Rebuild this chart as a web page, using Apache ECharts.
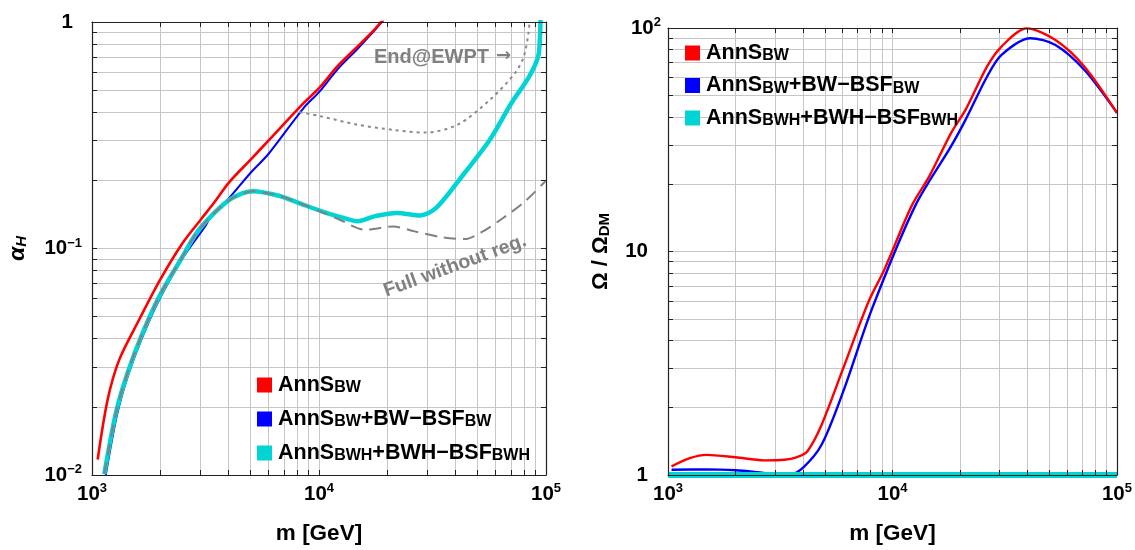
<!DOCTYPE html>
<html>
<head>
<meta charset="utf-8">
<script src="https://cdn.jsdelivr.net/npm/echarts@6/dist/echarts.min.js"></script>
<style>html,body{margin:0;padding:0;background:#fff}#c{width:1135px;height:550px}</style>
</head>
<body>
<div id="c"></div>
<script>
// ---------- data ----------
const mTicks = [1000,2000,3000,4000,5000,6000,7000,8000,9000,10000,20000,30000,40000,50000,60000,70000,80000,90000,100000];
const mLabels = [1000,10000,100000];
const aTicks = [0.01,0.02,0.03,0.04,0.05,0.06,0.07,0.08,0.09,0.1,0.2,0.3,0.4,0.5,0.6,0.7,0.8,0.9,1];
const aLabels = [0.01,0.1,1];
const oTicks = [1,2,3,4,5,6,7,8,9,10,20,30,40,50,60,70,80,90,100];
const oLabels = [1,10,100];

// left panel: alpha_H vs m
const L_red_m  = [1059,1173,1320,1617,2000,2512,3030,3459,4000,5000,6000,8550,10000,12020,14760,16900,18800,19300];
const L_red_a  = [0.0117,0.0216,0.0324,0.0487,0.073,0.106,0.135,0.160,0.195,0.247,0.300,0.438,0.51,0.635,0.778,0.89,1.0,1.03];
const L_blue_m = [1150,1290,1450,1690,2020,2530,3150,3300,4000,5000,6000,8550,10000,12020,14760,16900,18900,19400];
const L_blue_a = [0.0100,0.0185,0.0280,0.0420,0.0620,0.0920,0.1250,0.1350,0.166,0.216,0.262,0.417,0.49,0.615,0.76,0.88,1.0,1.03];
const L_cyan_m = [1133,1276,1436,1674,2000,2512,2885,3459,4148,5100,6650,8000,10270,12330,14760,17700,22030,27860,32810,43850,56570,70360,84280,92300,94000,94600];
const L_cyan_a = [0.0101,0.0189,0.0283,0.0425,0.0627,0.0925,0.117,0.1436,0.167,0.179,0.171,0.160,0.146,0.138,0.132,0.139,0.1436,0.140,0.151,0.216,0.302,0.438,0.574,0.703,0.85,1.02];
const L_full_m = [1133,1276,1436,1674,2000,2512,2885,3459,4148,5100,6650,8000,10270,12330,15890,21240,26400,35000,43850,52000,63100,80000,99300];
const L_full_a = [0.0101,0.0189,0.0283,0.0425,0.0627,0.0925,0.117,0.1436,0.167,0.179,0.171,0.160,0.145,0.134,0.121,0.125,0.119,0.112,0.110,0.118,0.134,0.160,0.198];
const L_ewpt_m = [8200,10000,14760,21240,29420,40800,56570,72940,79800,83700,84700];
const L_ewpt_a = [0.40,0.385,0.352,0.334,0.325,0.352,0.453,0.594,0.703,0.892,1.02];

// right panel: Omega/Omega_DM vs m
const R_red_m  = [1037,1250,1485,2000,2679,3300,3733,4170,4830,6030,7810,9228,12170,14620,18250,21170,26400,30600,39630,53200,71500,100000];
const R_red_o  = [1.093,1.19,1.231,1.20,1.163,1.17,1.20,1.275,1.675,3.0,5.94,8.36,16.0,21.8,33.96,43.1,67.3,82.6,99.6,88.4,67.3,41.7];
const R_blue_m = [1037,1500,2000,2500,3000,3500,4000,4830,6030,8110,12620,18250,21170,26400,30600,41100,53200,71500,100000];
const R_blue_o = [1.056,1.06,1.05,1.03,1.01,1.01,1.08,1.365,2.36,5.55,16.0,29.6,38.9,60.7,75.8,90.0,84.0,65.0,41.7];
const R_cyan_m = [1000,100000];
const R_cyan_o = [1,1];

const NAMES = ['AnnS_BW','AnnS_BW+BW-BSF_BW','AnnS_BWH+BWH-BSF_BWH'];
const RICH_NAMES = {
  'AnnS_BW': 'AnnS{s|BW}',
  'AnnS_BW+BW-BSF_BW': 'AnnS{s|BW}+BW\u2212BSF{s|BW}',
  'AnnS_BWH+BWH-BSF_BWH': 'AnnS{s|BWH}+BWH\u2212BSF{s|BWH}'
};
const RED = '#ff0000', BLUE = '#0000ff', CYAN = '#00d4d4', GRAY = '#808080';

// ---------- helpers ----------
const zip = (xs, ys) => xs.map((x, i) => [x, ys[i]]);
const FONT = "'Liberation Sans', 'DejaVu Sans', Arial, Helvetica, sans-serif";

function powLabel(v, plainTen, plainStyle) {
  const e = Math.round(Math.log10(v));
  if (e === 0) return '{' + plainStyle + '|1}';
  if (e === 1 && plainTen) return '{' + plainStyle + '|10}';
  return '{b|10}{p|' + (e < 0 ? '\u2212' + (-e) : e) + '}';
}
const labelRich = {
  b: {fontSize: 20.5, fontWeight: 'bold', fontFamily: FONT, color: '#000', lineHeight: 24},
  p: {fontSize: 13, fontWeight: 'bold', fontFamily: FONT, color: '#000', verticalAlign: 'top', lineHeight: 24, padding: [0,0,6,0]},
  L: {fontSize: 20.5, fontWeight: 'bold', fontFamily: FONT, color: '#000', lineHeight: 24, padding: [0,9,0,0]},
  R: {fontSize: 20.5, fontWeight: 'bold', fontFamily: FONT, color: '#000', lineHeight: 24, padding: [0,13,0,0]}
};

function mainX(grid, ticks, labels) {
  return {
    type: 'log', logBase: 10, gridIndex: grid, min: 1000, max: 100000, position: 'bottom', z: 0,
    axisLine: {show: false}, axisTick: {show: false, customValues: ticks},
    splitLine: {show: true, lineStyle: {color: '#c6c6c6', width: 1}},
    axisLabel: {show: true, customValues: labels, margin: 7, formatter: v => powLabel(v, false, 'b'), rich: labelRich},
    name: 'm [GeV]', nameLocation: 'middle', nameGap: 47,
    nameTextStyle: {fontSize: 22.5, fontWeight: 'bold', fontFamily: FONT, color: '#000'}
  };
}
function frameAxis(grid, pos, min, max, ticks) {
  return {
    type: 'log', logBase: 10, gridIndex: grid, min: min, max: max, position: pos, z: 10,
    axisLine: {show: true, onZero: false, lineStyle: {color: '#222', width: 1.2}},
    axisTick: {show: true, inside: true, length: 5, customValues: ticks, lineStyle: {color: '#222', width: 1}},
    splitLine: {show: false}, axisLabel: {show: false}
  };
}
function mainY(grid, min, max, ticks, labels, plainTen, plainStyle, margin, nameRich, nameText, gap) {
  return {
    type: 'log', logBase: 10, gridIndex: grid, min: min, max: max, position: 'left', z: 0,
    axisLine: {show: false}, axisTick: {show: false, customValues: ticks},
    splitLine: {show: true, lineStyle: {color: '#c6c6c6', width: 1}},
    axisLabel: {show: true, customValues: labels, margin: margin, formatter: v => powLabel(v, plainTen, plainStyle), rich: labelRich},
    name: nameText, nameLocation: 'middle', nameGap: gap, nameRotate: 90,
    nameTextStyle: {fontSize: 22, fontWeight: 'bold', fontFamily: FONT, color: '#000', rich: nameRich}
  };
}

function line(name, xi, yi, data, color, width, z, extra) {
  return Object.assign({
    name: name, type: 'line', xAxisIndex: xi, yAxisIndex: yi, data: data,
    showSymbol: false, symbol: 'none', smooth: 0.3, z: z, clip: true,
    lineStyle: {color: color, width: width}, itemStyle: {color: color}, silent: true, animation: false
  }, extra || {});
}

const legendText = {
  fontSize: 21.5, fontWeight: 'bold', fontFamily: FONT, color: '#000', lineHeight: 22,
  rich: {
    s: {fontSize: 16, fontWeight: 'bold', fontFamily: FONT, color: '#000', verticalAlign: 'bottom', lineHeight: 22, padding: [8,0,0,0]}
  }
};

const chart = echarts.init(document.getElementById('c'), null, {renderer: 'canvas'});
chart.setOption({
  animation: false,
  backgroundColor: '#fff',
  textStyle: {fontFamily: FONT},
  grid: [
    {left: 92, top: 22, width: 454, height: 454},
    {left: 668, top: 28, width: 449, height: 449}
  ],
  xAxis: [
    mainX(0, mTicks, mLabels),
    frameAxis(0, 'bottom', 1000, 100000, mTicks),
    frameAxis(0, 'top', 1000, 100000, mTicks),
    mainX(1, mTicks, mLabels),
    frameAxis(1, 'bottom', 1000, 100000, mTicks),
    frameAxis(1, 'top', 1000, 100000, mTicks)
  ],
  yAxis: [
    mainY(0, 0.01, 1, aTicks, aLabels, false, 'L', 10,
      {a: {fontSize: 23, fontWeight: 'bold', fontStyle: 'italic', fontFamily: FONT, color: '#000'},
       h: {fontSize: 15, fontWeight: 'bold', fontStyle: 'italic', fontFamily: FONT, color: '#000', verticalAlign: 'bottom', padding: [8,0,0,0]}},
      '{a|\u03b1}{h|H}', 63),
    frameAxis(0, 'left', 0.01, 1, aTicks),
    frameAxis(0, 'right', 0.01, 1, aTicks),
    mainY(1, 1, 100, oTicks, oLabels, true, 'R', 7,
      {a: {fontSize: 22, fontWeight: 'bold', fontFamily: FONT, color: '#000'},
       h: {fontSize: 15, fontWeight: 'bold', fontFamily: FONT, color: '#000', verticalAlign: 'bottom', padding: [8,0,0,0]}},
      '{a|\u03a9 / \u03a9}{h|DM}', 56),
    frameAxis(1, 'left', 1, 100, oTicks),
    frameAxis(1, 'right', 1, 100, oTicks)
  ],
  legend: [
    {
      data: NAMES, orient: 'vertical', left: 252, top: 367, itemWidth: 15, itemHeight: 15, itemGap: 10,
      icon: 'rect', selectedMode: false, textStyle: Object.assign({padding: [0,0,0,1]}, legendText),
      formatter: n => RICH_NAMES[n]
    },
    {
      data: NAMES, orient: 'vertical', left: 680, top: 35, itemWidth: 15, itemHeight: 15, itemGap: 8.5,
      icon: 'rect', selectedMode: false, textStyle: Object.assign({padding: [0,0,0,1]}, legendText),
      formatter: n => RICH_NAMES[n]
    }
  ],
  series: [
    // left
    line(NAMES[1], 0, 0, zip(L_blue_m, L_blue_a), BLUE, 2, 2),
    line(NAMES[0], 0, 0, zip(L_red_m, L_red_a), RED, 2.6, 3),
    line(NAMES[2], 0, 0, zip(L_cyan_m, L_cyan_a), CYAN, 4.5, 4),
    line('Full without reg.', 0, 0, zip(L_full_m, L_full_a), GRAY, 2, 5, {lineStyle: {color: GRAY, width: 2, type: [12, 7]}}),
    line('End@EWPT', 0, 0, zip(L_ewpt_m, L_ewpt_a), GRAY, 2, 5, {lineStyle: {color: '#8a8a8a', width: 2, type: [3, 4]}}),
    // right
    line(NAMES[1], 3, 3, zip(R_blue_m, R_blue_o), BLUE, 2.4, 2),
    line(NAMES[0], 3, 3, zip(R_red_m, R_red_o), RED, 2.4, 3),
    line(NAMES[2], 3, 3, zip(R_cyan_m, R_cyan_o), CYAN, 6, 4, {smooth: false})
  ],
  graphic: [
    {type: 'text', left: 374, top: 47, z: 20, silent: true,
     style: {text: 'End@EWPT', fontSize: 20, fontWeight: 'bold', fontFamily: FONT, fill: GRAY}},
    {type: 'text', left: 496, top: 47, z: 20, silent: true,
     style: {text: '\u2192', fontSize: 18, fontWeight: 'bold', fontFamily: "'DejaVu Sans', 'Noto Sans', sans-serif", fill: GRAY}},
    {type: 'text', x: 455, y: 266, rotation: 0.35, z: 20, silent: true,
     style: {text: 'Full without reg.', fontSize: 19.5, fontWeight: 'bold', fontFamily: FONT, fill: GRAY, align: 'center', verticalAlign: 'middle'}}
  ]
});
</script>
</body>
</html>
